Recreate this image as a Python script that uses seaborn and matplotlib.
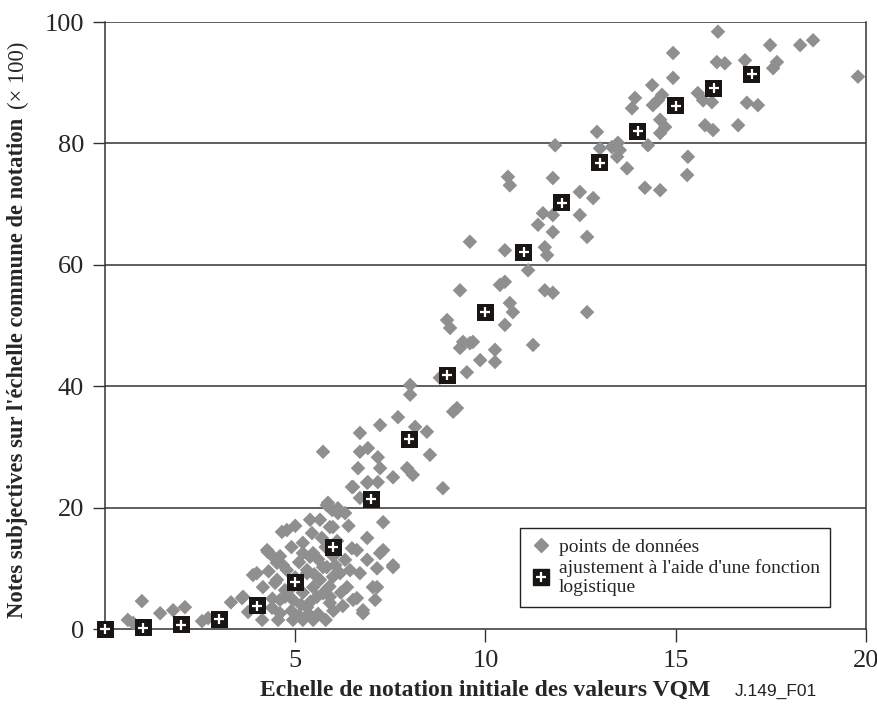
import matplotlib
matplotlib.use('Agg')
import matplotlib.pyplot as plt
from matplotlib.lines import Line2D
import seaborn as sns
import pandas as pd

# points de données (valeur VQM, note subjective x100)
vqm = [0.60, 0.74, 0.97, 1.45, 1.79, 2.10, 2.55, 2.71, 3.31, 3.60, 3.76, 3.89, 4.13, 4.28,
       4.52, 4.68, 4.65, 4.47, 4.39, 4.55, 4.73, 3.99,
       4.78, 5.39, 5.44, 5.83, 5.97, 6.12, 5.91, 6.52, 6.89, 7.31, 6.89, 7.31, 7.57, 6.89,
       7.15, 6.62, 6.44, 6.36, 6.62, 6.78, 7.15, 4.26, 4.42, 5.20, 5.39, 3.63, 4.15, 4.52,
       4.78, 4.60, 4.94, 5.31, 5.57, 5.91, 5.65, 5.83, 6.18, 5.31, 4.73, 4.60, 5.20, 5.47,
       6.65, 7.23, 7.57, 6.91, 7.17, 6.49, 5.86, 6.12, 6.70, 6.31, 5.99, 6.49, 7.23, 7.57,
       7.04, 7.10, 6.78, 6.52, 6.31, 6.70, 5.73, 5.99, 5.47, 5.73, 5.91, 5.31, 4.94, 5.47,
       4.30, 4.60, 4.90, 5.10, 5.00, 5.20, 5.40, 5.60, 5.80, 6.00, 6.20, 5.60, 5.80, 6.00,
       5.20, 5.50, 4.90, 5.10, 6.40, 5.70, 6.10, 5.00, 4.40, 5.90, 6.05, 4.85, 5.15, 5.35,
       6.25, 5.65,
       5.73, 6.70, 6.91, 7.17, 8.54, 7.94, 8.09, 8.88, 6.70, 7.23, 7.70, 8.15, 8.46,
       8.02, 8.02, 8.80, 9.25, 9.15, 9.51, 9.86, 9.33, 9.59, 10.25, 10.25, 8.99, 9.07, 9.41,
       9.67, 11.25, 9.33, 10.51, 10.72, 10.64, 12.67, 10.51, 10.38, 11.12, 11.56, 11.77,
       9.59, 10.51, 11.56, 11.62, 11.38, 11.77, 12.67, 11.51, 11.77, 12.48, 10.59, 10.64,
       11.77, 12.48, 12.83, 11.83, 12.93, 13.01, 13.32, 13.48, 13.53, 13.46, 13.72, 14.27,
       14.19, 14.59, 15.30, 15.32, 14.59, 14.72, 14.59, 15.77, 15.98, 16.64, 13.85, 13.93,
       14.40, 14.53, 14.38, 14.64, 14.93, 15.58, 15.72, 15.95, 16.87, 17.16, 14.93, 16.11,
       16.08, 16.29, 16.82, 17.48, 17.66, 17.56, 18.27, 18.61, 19.79]
notes = [1.5, 1.0, 4.6, 2.6, 3.1, 3.6, 1.3, 1.8, 4.4, 5.1, 2.8, 8.9, 1.5, 12.7,
         10.9, 10.5, 16.0, 7.6, 3.5, 1.5, 5.3, 9.2,
         16.3, 18.0, 15.8, 20.4, 19.6, 19.1, 16.8, 23.4, 24.1, 17.6, 15.0, 13.0, 10.5, 11.4,
         10.0, 13.0, 9.7, 6.9, 5.1, 3.1, 6.9, 13.0, 11.9, 14.2, 11.9, 5.3, 6.9, 8.1,
         9.7, 2.6, 1.5, 3.6, 5.3, 5.3, 8.1, 10.2, 9.2, 9.7, 6.4, 4.8, 1.5, 1.5,
         26.5, 26.5, 25.0, 24.2, 24.2, 23.4, 20.8, 19.9, 21.6, 19.1, 16.8, 13.3, 12.5, 10.2,
         6.9, 4.8, 2.6, 4.8, 11.4, 9.2, 10.2, 8.6, 12.5, 5.9, 4.3, 9.2, 4.8, 6.9,
         9.5, 12.0, 13.5, 11.0, 8.5, 6.0, 4.5, 2.5, 1.5, 3.0, 6.0, 11.5, 13.5, 12.0,
         12.5, 9.0, 3.0, 2.2, 17.0, 15.0, 14.5, 17.0, 5.0, 7.0, 10.5, 6.5, 4.0, 2.5,
         3.8, 18.0,
         29.2, 29.2, 29.8, 28.3, 28.7, 26.5, 25.4, 23.2, 32.3, 33.6, 34.9, 33.3, 32.5,
         40.2, 38.6, 41.4, 36.4, 35.8, 42.3, 44.3, 46.3, 47.1, 44.0, 46.0, 50.9, 49.6, 47.3,
         47.3, 46.8, 55.8, 50.1, 52.2, 53.7, 52.2, 57.2, 56.7, 59.1, 55.8, 55.4,
         63.8, 62.4, 62.9, 61.6, 66.6, 65.4, 64.6, 68.5, 68.2, 68.2, 74.5, 73.1,
         74.3, 72.0, 71.0, 79.7, 81.9, 79.2, 79.4, 80.1, 78.9, 77.8, 75.9, 79.7,
         72.7, 72.3, 74.8, 77.8, 83.9, 82.7, 81.7, 83.0, 82.2, 83.0, 85.8, 87.5,
         86.3, 87.1, 89.6, 88.0, 90.8, 88.3, 87.1, 86.8, 86.7, 86.3, 94.9, 98.4,
         93.4, 93.2, 93.7, 96.2, 93.4, 92.4, 96.2, 97.0, 91.0]

# ajustement à l'aide d'une fonction logistique
fit_x = list(range(18))
fit_y = [0.0, 0.2, 0.7, 1.6, 3.8, 7.7, 13.5, 21.4, 31.3, 41.8, 52.2, 62.1, 70.2,
         76.8, 82.0, 86.2, 89.1, 91.4]

x_ticks = [5, 10, 15, 20]
y_ticks = [0, 20, 40, 60, 80, 100]

sns.set_style("white")
plt.rcParams['font.family'] = ['Liberation Serif', 'DejaVu Serif']

pts = pd.DataFrame({'vqm': vqm, 'notes': notes})
fit = pd.DataFrame({'x': fit_x, 'y': fit_y})

fig = plt.figure(figsize=(8.78, 7.04), dpi=100)
ax = fig.add_axes([0.1196, 0.1065, 0.8667, 0.8622])

for v in y_ticks[1:]:
    ax.axhline(v, color='#333333', lw=1.1, zorder=1)

sns.scatterplot(data=pts, x='vqm', y='notes', marker='D', s=55, color='#8f8f8f',
                edgecolor='none', linewidth=0, ax=ax, zorder=3, clip_on=False)
sns.scatterplot(data=fit, x='x', y='y', marker='s', s=150, color='#181512',
                edgecolor='none', linewidth=0, ax=ax, zorder=4, clip_on=False)
ax.scatter(fit['x'], fit['y'], marker='+', s=50, color='white', linewidths=1.6,
           zorder=5, clip_on=False)

ax.set_xlim(0, 20)
ax.set_ylim(0, 100)
ax.set_xticks(x_ticks)
ax.set_yticks(y_ticks)
ax.tick_params(axis='both', labelsize=19, direction='out', length=9, width=1,
               color='#333333', bottom=True, left=True)
ax.tick_params(axis='x', pad=6)
ax.tick_params(axis='y', pad=6)
for side in ['left', 'bottom', 'right']:
    ax.spines[side].set_color('#333333')
    ax.spines[side].set_linewidth(1.1)
ax.spines['top'].set_visible(False)

ax.set_xlabel("Echelle de notation initiale des valeurs VQM", fontsize=17,
              fontweight='bold', labelpad=6)
ax.set_ylabel("")

# y label: bold part + regular "(× 100)"
ylab = fig.text(0.0205, 0.122, "Notes subjectives sur l'échelle commune de notation",
                rotation=90, fontsize=16.3, fontweight='bold', ha='center', va='bottom')
fig.canvas.draw()
bb = ylab.get_window_extent(fig.canvas.get_renderer())
fig.text(0.0205, (bb.y1 + 9) / fig.bbox.height, "(× 100)", rotation=90, fontsize=16.3,
         ha='center', va='bottom')

h_pts = Line2D([], [], marker='D', color='#8f8f8f', ls='none', markersize=7.5)
h_sq = Line2D([], [], marker='s', color='#181512', ls='none', markersize=12)
h_plus = Line2D([], [], marker='+', color='white', ls='none', markersize=7, mew=1.6)
leg = ax.legend([h_pts, (h_sq, h_plus)],
                ["points de données", "ajustement à l'aide d'une fonction\nlogistique"],
                loc='lower left', bbox_to_anchor=(0.545, 0.036), fontsize=14,
                frameon=True, fancybox=False, edgecolor='#222222', framealpha=1,
                borderpad=0.55, handletextpad=0.35, labelspacing=0.15, handlelength=1.1,
                borderaxespad=0)
leg.get_frame().set_linewidth(1.0)

fig.text(0.837, 0.011, "J.149_F01", fontsize=12.5, family='Liberation Sans', color='#222222')

fig.savefig("out.png", dpi=100)
